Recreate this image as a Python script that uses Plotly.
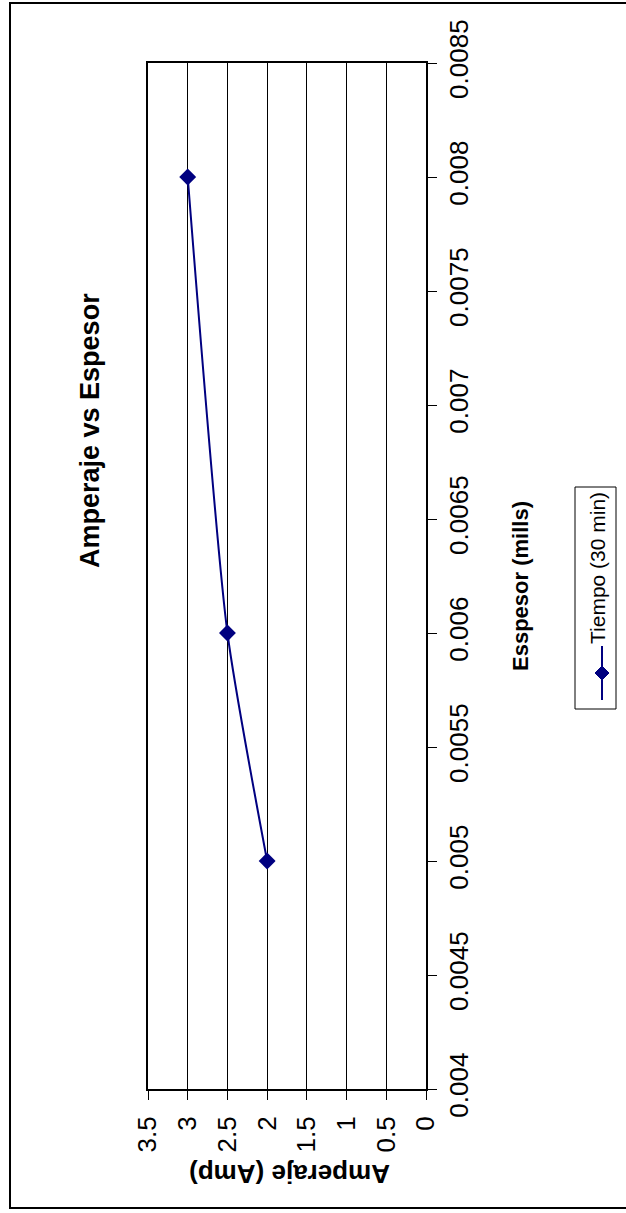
import plotly.graph_objects as go

# Series data: current (Amp) against coating thickness (mills)
espesor = [0.005, 0.006, 0.008]
amperaje = [2.0, 2.5, 3.0]
serie_nombre = "Tiempo (30 min)"

# Axis ticks
amp_ticks = [3.5, 3.0, 2.5, 2.0, 1.5, 1.0, 0.5, 0.0]
amp_labels = ["3.5", "3", "2.5", "2", "1.5", "1", "0.5", "0"]
esp_ticks = [0.004, 0.0045, 0.005, 0.0055, 0.006, 0.0065, 0.007, 0.0075, 0.008, 0.0085]
esp_labels = ["0.004", "0.0045", "0.005", "0.0055", "0.006", "0.0065",
              "0.007", "0.0075", "0.008", "0.0085"]

W, H = 626, 1213
L, R, T, B = 148, 426, 63, 1089  # plot-area edges in pixels
FONT = "Arial, Liberation Sans, sans-serif"
NAVY = "#000080"


def px(x):
    return (x - L) / (R - L)


def py(y):
    return (B - y) / (B - T)


fig = go.Figure()
fig.add_trace(go.Scatter(
    x=amperaje, y=espesor, mode="lines+markers", name=serie_nombre,
    line=dict(color=NAVY, width=2, shape="spline", smoothing=0.6),
    marker=dict(symbol="diamond", size=13, color=NAVY),
    showlegend=False,
))

fig.update_layout(
    width=W, height=H,
    margin=dict(l=L, r=W - R, t=T, b=H - B, pad=0),
    paper_bgcolor="white", plot_bgcolor="white",
    font=dict(family=FONT, color="black"),
    xaxis=dict(
        range=[3.5, 0], tickvals=amp_ticks, ticktext=amp_labels,
        tickangle=-90, tickfont=dict(size=26), ticklabelstandoff=6,
        ticks="outside", ticklen=9, tickcolor="black", tickwidth=1,
        showgrid=True, gridcolor="black", gridwidth=1,
        showline=True, linecolor="black", linewidth=2, mirror=True,
        zeroline=False, automargin=False, fixedrange=True,
    ),
    yaxis=dict(
        range=[0.004, 0.0085], tickvals=esp_ticks, ticktext=esp_labels,
        side="right", tickangle=-90, tickfont=dict(size=26), ticklabelstandoff=0,
        ticks="outside", ticklen=9, tickcolor="black", tickwidth=1,
        showgrid=False,
        showline=True, linecolor="black", linewidth=2, mirror=True,
        zeroline=False, automargin=False, fixedrange=True,
    ),
)

# Outer chart frame
fig.add_shape(type="rect", xref="paper", yref="paper",
              x0=px(10), x1=px(632), y0=py(3), y1=py(1208),
              line=dict(color="black", width=2), layer="below")

# Titles
fig.add_annotation(text="<b>Amperaje vs Espesor</b>", xref="paper", yref="paper",
                   x=px(90), y=py(431), textangle=-90, showarrow=False,
                   xanchor="center", yanchor="middle", font=dict(size=27))
fig.add_annotation(text="<b>Esspesor (mills)</b>", xref="paper", yref="paper",
                   x=px(520), y=py(586), textangle=-90, showarrow=False,
                   xanchor="center", yanchor="middle", font=dict(size=22))
fig.add_annotation(text="<b>Amperaje (Amp)</b>", xref="paper", yref="paper",
                   x=px(290), y=py(1174), textangle=180, showarrow=False,
                   xanchor="center", yanchor="middle", font=dict(size=26))

# Legend box
lx0, lx1, ly0, ly1 = 575, 616, 487, 709
fig.add_shape(type="rect", xref="paper", yref="paper",
              x0=px(lx0), x1=px(lx1), y0=py(ly1), y1=py(ly0),
              line=dict(color="black", width=1), fillcolor="white")
mx, my = 602, 673
fig.add_shape(type="line", xref="paper", yref="paper",
              x0=px(mx), x1=px(mx), y0=py(646), y1=py(700),
              line=dict(color=NAVY, width=2))
d = 7
fig.add_shape(type="path", xref="paper", yref="paper",
              path=(f"M {px(mx)},{py(my - d)} L {px(mx + d)},{py(my)} "
                    f"L {px(mx)},{py(my + d)} L {px(mx - d)},{py(my)} Z"),
              fillcolor=NAVY, line=dict(color=NAVY, width=1))
fig.add_annotation(text=serie_nombre, xref="paper", yref="paper",
                   x=px(597), y=py(568), textangle=-90, showarrow=False,
                   xanchor="center", yanchor="middle", font=dict(size=21))

fig.write_html("out.html")
